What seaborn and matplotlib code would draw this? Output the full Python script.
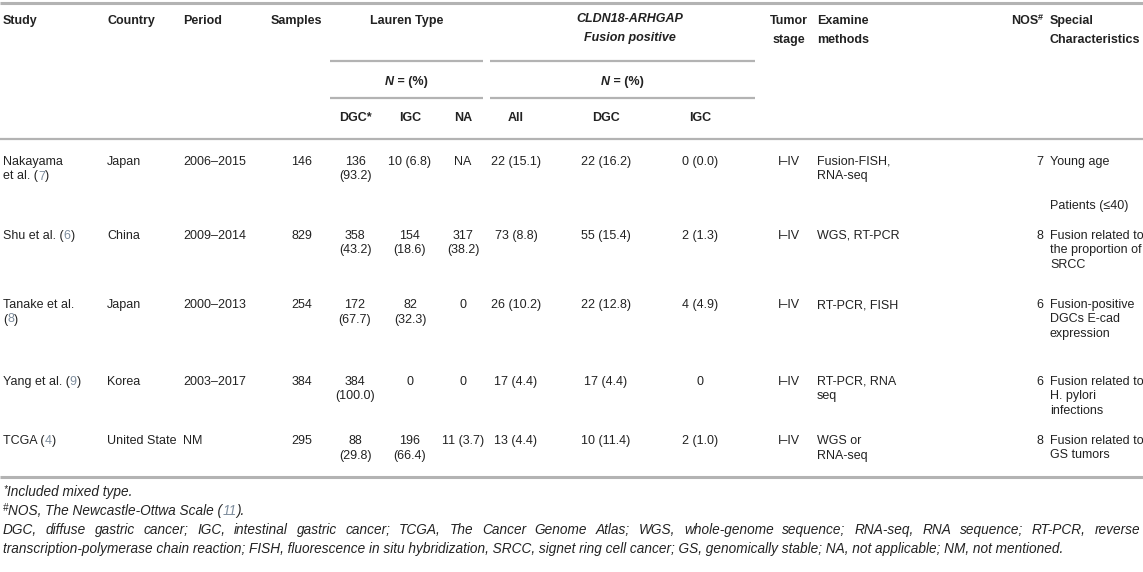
import matplotlib
matplotlib.use("Agg")
import matplotlib.pyplot as plt
import seaborn as sns

# ---------------- data ----------------
study_lines = [["Nakayama", "et al. ({})"], ["Shu et al. ({})"], ["Tanake et al.", "({})"],
               ["Yang et al. ({})"], ["TCGA ({})"]]
study_refs = ["7", "6", "8", "9", "4"]
countries = ["Japan", "China", "Japan", "Korea", "United State"]
periods = ["2006–2015", "2009–2014", "2000–2013", "2003–2017", "NM"]
samples = ["146", "829", "254", "384", "295"]
lauren_dgc = [["136", "(93.2)"], ["358", "(43.2)"], ["172", "(67.7)"], ["384", "(100.0)"], ["88", "(29.8)"]]
lauren_igc = [["10 (6.8)"], ["154", "(18.6)"], ["82", "(32.3)"], ["0"], ["196", "(66.4)"]]
lauren_na = [["NA"], ["317", "(38.2)"], ["0"], ["0"], ["11 (3.7)"]]
fusion_all = ["22 (15.1)", "73 (8.8)", "26 (10.2)", "17 (4.4)", "13 (4.4)"]
fusion_dgc = ["22 (16.2)", "55 (15.4)", "22 (12.8)", "17 (4.4)", "10 (11.4)"]
fusion_igc = ["0 (0.0)", "2 (1.3)", "4 (4.9)", "0", "2 (1.0)"]
tumor_stage = ["I–IV", "I–IV", "I–IV", "I–IV", "I–IV"]
methods = [["Fusion-FISH,", "RNA-seq"], ["WGS, RT-PCR"], ["RT-PCR, FISH"], ["RT-PCR, RNA", "seq"], ["WGS or", "RNA-seq"]]
nos = ["7", "8", "6", "6", "8"]
special = [["Young age", "", "", "Patients (≤40)"],
           ["Fusion related to", "the proportion of", "SRCC"],
           ["Fusion-positive", "DGCs E-cad", "expression"],
           ["Fusion related to", "H. pylori", "infections"],
           ["Fusion related to", "GS tumors"]]
foot1 = "Included mixed type."
foot2_a = "NOS, The Newcastle-Ottwa Scale ("
foot2_ref = "11"
foot3_line1 = ("DGC, diffuse gastric cancer; IGC, intestinal gastric cancer; TCGA, The Cancer Genome Atlas; "
               "WGS, whole-genome sequence; RNA-seq, RNA sequence; RT-PCR, reverse")
foot3_line2 = ("transcription-polymerase chain reaction; FISH, fluorescence in situ hybridization, SRCC, "
               "signet ring cell cancer; GS, genomically stable; NA, not applicable; NM, not mentioned.")

# ---------------- layout ----------------
sns.set_theme(style="white")
plt.rcParams['font.family'] = ['Liberation Sans', 'DejaVu Sans']

W, H = 1143, 572
FS = 9.0
FFS = 9.8
TXT = "#222222"
REF = "#7d8c9c"
RULE = "#b3b3b3"

fig = plt.figure(figsize=(W / 100, H / 100), dpi=100)
ax = fig.add_axes([0, 0, 1, 1])
ax.set_xlim(0, W)
ax.set_ylim(H, 0)
ax.axis("off")
fig.canvas.draw()
renderer = fig.canvas.get_renderer()


def txt(x, y, s, ha="left", **kw):
    kw.setdefault("fontsize", FS)
    kw.setdefault("color", TXT)
    return ax.text(x, y, s, ha=ha, va="center", **kw)


def runs(x, y, parts, ha="left"):
    items = []
    for s, kw in parts:
        kw = dict(kw)
        dy = kw.pop("dy", 0)
        t = txt(0, y + dy, s, **kw)
        items.append(t)
    widths = [t.get_window_extent(renderer).width for t in items]
    total = sum(widths)
    cur = x if ha == "left" else (x - total / 2 if ha == "center" else x - total)
    for t, w in zip(items, widths):
        t.set_x(cur)
        cur += w


def justify(x0, x1, y, s, **kw):
    words = s.split(" ")
    items = [txt(0, y, w, **kw) for w in words]
    widths = [t.get_window_extent(renderer).width for t in items]
    gap = (x1 - x0 - sum(widths)) / (len(words) - 1)
    cur = x0
    for t, w in zip(items, widths):
        t.set_x(cur)
        cur += w + gap


B = dict(fontweight="bold")
BI = dict(fontweight="bold", fontstyle="italic")

# column positions
X_STUDY, X_COUNTRY, X_PERIOD, X_SAMPLES = 3, 107, 183, 271
X_SAMPLES_R = 312
X_LDGC, X_LIGC, X_LNA = 355, 410, 463
X_FALL, X_FDGC, X_FIGC = 516, 606, 700
X_STAGE, X_METH, X_NOS_R, X_SPEC = 789, 817, 1043, 1050
LAUREN_SPAN = (330, 483)
FUSION_SPAN = (490, 755)

# rows
Y_H1, Y_H2, Y_RULE1, Y_N, Y_RULE2, Y_SUB, Y_RULE3 = 21, 40, 61, 82, 98, 118, 139
ROW_Y = [162, 236, 305, 382, 441]
LS = 14.5
Y_BOTTOM = 477
FOOT_Y = [492, 511, 530, 549]

# rules
ax.hlines(3, 0, W, color=RULE, lw=2.2)
ax.hlines([Y_RULE1, Y_RULE2], *LAUREN_SPAN, color=RULE, lw=1.6)
ax.hlines([Y_RULE1, Y_RULE2], *FUSION_SPAN, color=RULE, lw=1.6)
ax.hlines(Y_RULE3, 0, W, color=RULE, lw=1.6)
ax.hlines(Y_BOTTOM, 0, W, color=RULE, lw=2.2)

# header
txt(X_STUDY, Y_H1, "Study", **B)
txt(X_COUNTRY, Y_H1, "Country", **B)
txt(X_PERIOD, Y_H1, "Period", **B)
txt(X_SAMPLES, Y_H1, "Samples", **B)
txt(sum(LAUREN_SPAN) / 2, Y_H1, "Lauren Type", ha="center", **B)
txt(630, Y_H1 - 2, "CLDN18-ARHGAP", ha="center", **BI)
txt(630, Y_H2 - 2, "Fusion positive", ha="center", **BI)
txt(X_STAGE, Y_H1, "Tumor", ha="center", **B)
txt(X_STAGE, Y_H2, "stage", ha="center", **B)
txt(X_METH, Y_H1, "Examine", **B)
txt(X_METH, Y_H2, "methods", **B)
runs(X_NOS_R, Y_H1, [("NOS", B), ("#", dict(fontweight="bold", fontsize=6.5, dy=-4))], ha="right")
txt(X_SPEC, Y_H1, "Special", **B)
txt(X_SPEC, Y_H2, "Characteristics", **B)
for cx in (sum(LAUREN_SPAN) / 2, sum(FUSION_SPAN) / 2):
    runs(cx, Y_N, [("N", BI), (" = (%)", B)], ha="center")
for cx, s in [(X_LDGC, "DGC*"), (X_LIGC, "IGC"), (X_LNA, "NA"),
              (X_FALL, "All"), (X_FDGC, "DGC"), (X_FIGC, "IGC")]:
    txt(cx, Y_SUB, s, ha="center", **B)

# body
for i, y0 in enumerate(ROW_Y):
    for k, line in enumerate(study_lines[i]):
        yy = y0 + k * LS
        if "{}" in line:
            pre, post = line.split("{}")
            runs(X_STUDY, yy, [(pre, {}), (study_refs[i], dict(color=REF)), (post, {})])
        else:
            txt(X_STUDY, yy, line)
    txt(X_COUNTRY, y0, countries[i])
    txt(X_PERIOD, y0, periods[i])
    txt(X_SAMPLES_R, y0, samples[i], ha="right")
    for cx, col in [(X_LDGC, lauren_dgc), (X_LIGC, lauren_igc), (X_LNA, lauren_na)]:
        for k, line in enumerate(col[i]):
            txt(cx, y0 + k * LS, line, ha="center")
    txt(X_FALL, y0, fusion_all[i], ha="center")
    txt(X_FDGC, y0, fusion_dgc[i], ha="center")
    txt(X_FIGC, y0, fusion_igc[i], ha="center")
    txt(X_STAGE, y0, tumor_stage[i], ha="center")
    for k, line in enumerate(methods[i]):
        txt(X_METH, y0 + k * LS, line)
    txt(X_NOS_R, y0, nos[i], ha="right")
    for k, line in enumerate(special[i]):
        if line:
            txt(X_SPEC, y0 + k * LS, line)

# footnotes
IT = dict(fontstyle="italic", fontsize=FFS)
runs(X_STUDY, FOOT_Y[0], [("*", dict(fontstyle="italic", fontsize=7, dy=-3)), (foot1, IT)])
runs(X_STUDY, FOOT_Y[1], [("#", dict(fontstyle="italic", fontsize=7, dy=-3)), (foot2_a, IT),
                          (foot2_ref, dict(fontstyle="italic", fontsize=FFS, color=REF)), (").", IT)])
justify(X_STUDY, W - 3, FOOT_Y[2], foot3_line1, **IT)
txt(X_STUDY, FOOT_Y[3], foot3_line2, **IT)

fig.savefig("out.png", dpi=100, facecolor="white")
